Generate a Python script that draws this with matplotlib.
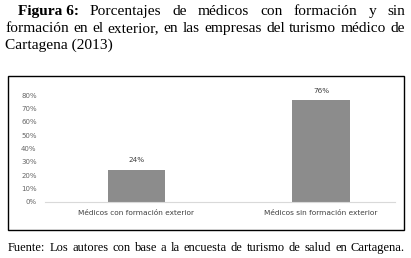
import matplotlib
matplotlib.use("Agg")
import matplotlib.pyplot as plt
from matplotlib.patches import Rectangle

# data
categories = ["Médicos con formación exterior", "Médicos sin formación exterior"]
values = [0.24, 0.76]
bar_labels = ["24%", "76%"]
yticks = [0.0, 0.1, 0.2, 0.3, 0.4, 0.5, 0.6, 0.7, 0.8]
ytick_labels = ["0%", "10%", "20%", "30%", "40%", "50%", "60%", "70%", "80%"]

title_line1 = ["Porcentajes", "de", "médicos", "con", "formación", "y", "sin"]
title_line2 = "formación en el exterior, en las empresas del turismo médico de"
title_line3 = "Cartagena (2013)"
source = "Fuente: Los autores con base a la encuesta de turismo de salud en Cartagena."

W, H = 411, 258
fig = plt.figure(figsize=(W / 100, H / 100), dpi=100)
serif = "Liberation Serif"
tsize = 11.1


def fx(px):
    return px / W


def fy(py):
    return 1 - py / H


def justify(words, x0, x1, y, size, bold_first=False):
    # place words so the line fills x0..x1
    r = fig.canvas.get_renderer()
    objs = []
    for i, w in enumerate(words):
        wt = "bold" if (bold_first and i == 0) else "normal"
        objs.append(fig.text(fx(x0), fy(y), w, fontsize=size, family=serif,
                             fontweight=wt, va="baseline", ha="left"))
    widths = [o.get_window_extent(renderer=r).width for o in objs]
    gap = (x1 - x0 - sum(widths)) / (len(words) - 1)
    x = x0
    for o, w in zip(objs, widths):
        o.set_x(fx(x))
        x += w + gap


justify(["Figura 6:"] + title_line1, 18, 405, 15, tsize, bold_first=True)
justify(title_line2.split(" "), 5, 405, 32, tsize)
fig.text(fx(5), fy(49), title_line3, fontsize=tsize, family=serif, va="baseline")
justify(source.split(" "), 8, 405, 251, 9.0)

# frame around the chart
fig.patches.append(Rectangle((fx(8), fy(230)), fx(396), 154 / H, transform=fig.transFigure,
                             fill=False, edgecolor="black", linewidth=1.0))

ax = fig.add_axes([fx(45), fy(202), fx(350), 107 / H])
x = range(len(categories))
bars = ax.bar(x, values, width=0.31, color="#8c8c8c")
for b, lab in zip(bars, bar_labels):
    ax.text(b.get_x() + b.get_width() / 2, b.get_height() + 0.05, lab,
            ha="center", va="bottom", fontsize=5.2, color="#404040",
            family="DejaVu Sans", clip_on=False)

ax.set_xlim(-0.495, 1.4)
ax.set_ylim(0, 0.8)
ax.set_yticks(yticks)
ax.set_yticklabels(ytick_labels, fontsize=5, color="#666666")
ax.set_xticks(list(x))
ax.set_xticklabels(categories, fontsize=5.3, color="#404040")
ax.tick_params(length=0)
ax.tick_params(axis="y", pad=6)
ax.tick_params(axis="x", pad=6)
for s in ["top", "right", "left"]:
    ax.spines[s].set_visible(False)
ax.spines["bottom"].set_color("#d9d9d9")
ax.spines["bottom"].set_linewidth(0.8)

fig.savefig("out.png", dpi=100)
